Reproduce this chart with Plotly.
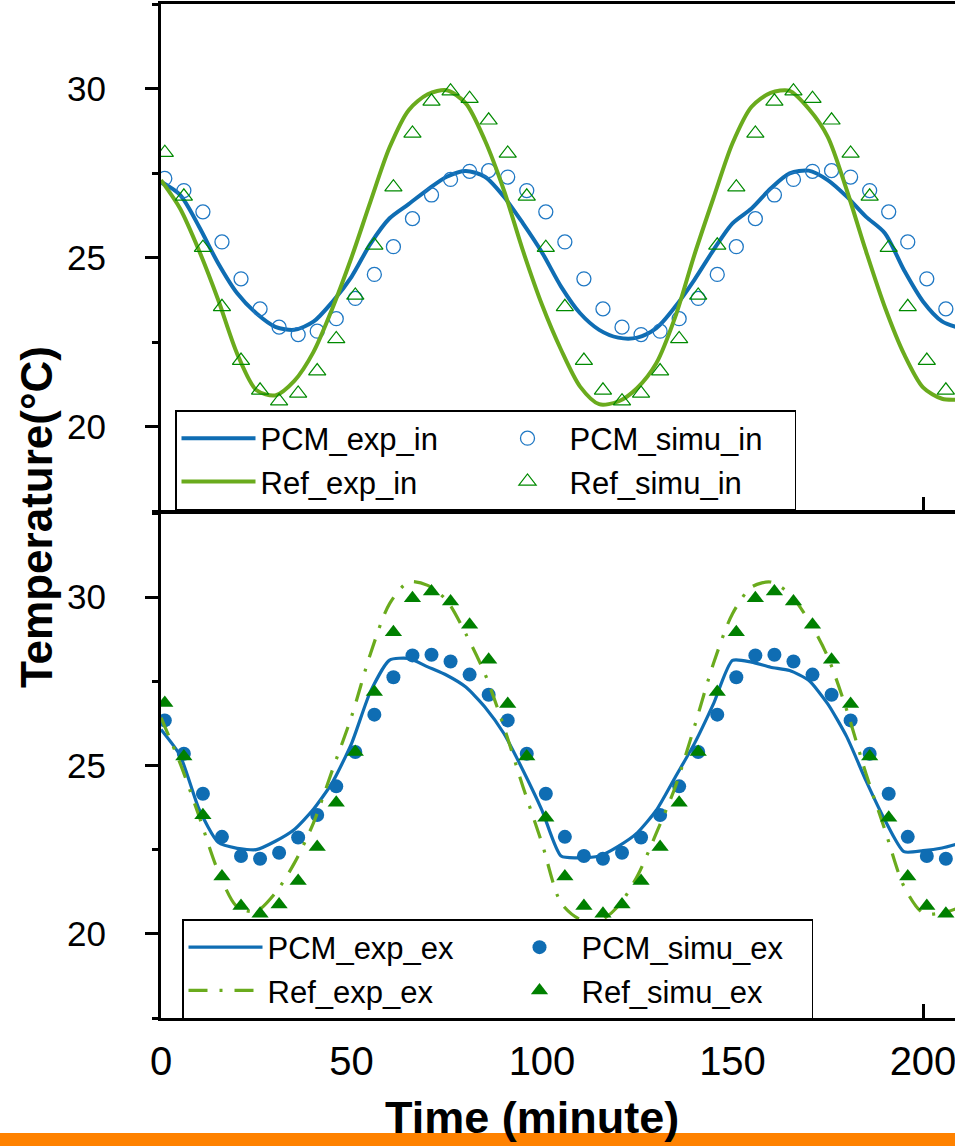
import plotly.graph_objects as go

# ---------------- data ----------------
exp_time = [0, 5, 10, 15, 20, 25, 30, 35, 40, 45, 50, 55, 60, 65, 70, 75, 80, 85, 90, 95,
            100, 105, 110, 115, 120, 125, 130, 135, 140, 145, 150, 155, 160, 165, 170, 175,
            180, 185, 190, 195, 200, 205, 210]

pcm_exp_in = [27.24, 26.85, 25.91, 24.83, 23.94, 23.35, 22.95, 22.86, 23.10, 23.69, 24.43,
              25.41, 26.16, 26.58, 27.01, 27.39, 27.56, 27.39, 26.80, 26.01, 25.15, 24.14,
              23.35, 22.86, 22.63, 22.63, 22.91, 23.55, 24.34, 25.22, 26.01, 26.45, 27.04,
              27.49, 27.57, 27.29, 26.80, 26.21, 25.72, 24.63, 23.70, 23.11, 22.90]

ref_exp_in = [27.29, 26.45, 25.20, 23.75, 22.15, 21.08, 20.92, 21.35, 22.20, 23.50, 25.00,
              26.66, 28.26, 29.36, 29.83, 29.95, 29.56, 28.47, 26.99, 25.20, 23.60, 22.27,
              21.18, 20.66, 20.74, 21.14, 21.87, 23.25, 25.08, 26.76, 28.38, 29.46, 29.87,
              29.93, 29.40, 28.57, 26.99, 25.20, 23.53, 22.15, 21.16, 20.82, 20.80]

pcm_exp_ex = [26.07, 25.30, 23.70, 22.72, 22.54, 22.50, 22.75, 23.10, 23.70, 24.50, 25.65,
              27.20, 28.13, 28.18, 27.93, 27.68, 27.33, 26.74, 25.95, 24.86, 23.67, 22.31,
              22.26, 22.31, 22.60, 23.00, 23.67, 24.66, 25.65, 26.83, 28.12, 28.07, 27.92,
              27.82, 27.53, 26.83, 25.85, 24.56, 23.38, 22.44, 22.47, 22.55, 22.70]

ref_exp_ex = [26.42, 25.07, 23.49, 21.86, 20.80, 20.67, 21.21, 22.10, 23.29, 24.87, 26.45,
              28.33, 29.81, 30.45, 30.35, 29.90, 28.91, 27.73, 26.15, 24.37, 22.69, 20.92,
              20.43, 20.38, 20.82, 21.71, 22.99, 24.37, 26.15, 28.03, 29.51, 30.30, 30.45,
              30.10, 29.31, 28.23, 26.64, 24.77, 23.09, 21.41, 20.62, 20.62, 20.80]

simu_time = [1, 6, 11, 16, 21, 26, 31, 36, 41, 46, 51, 56, 61, 66, 71, 76, 81, 86, 91, 96,
             101, 106, 111, 116, 121, 126, 131, 136, 141, 146, 151, 156, 161, 166, 171, 176,
             181, 186, 191, 196, 201, 206]

pcm_simu_in = [27.34, 26.98, 26.35, 25.46, 24.37, 23.48, 22.94, 22.72, 22.82, 23.19, 23.79,
               24.50, 25.32, 26.15, 26.85, 27.31, 27.55, 27.57, 27.38, 26.98, 26.35,
               25.46, 24.37, 23.48, 22.94, 22.72, 22.82, 23.19, 23.79, 24.50, 25.32, 26.15,
               26.85, 27.31, 27.55, 27.57, 27.38, 26.98, 26.35, 25.46, 24.37, 23.48]

ref_simu_in = [28.10, 26.81, 25.29, 23.54, 21.95, 21.07, 20.75, 20.98, 21.64, 22.59, 23.88,
               25.36, 27.08, 28.67, 29.62, 29.92, 29.70, 29.06, 28.08, 26.81, 25.29,
               23.54, 21.95, 21.07, 20.75, 20.98, 21.64, 22.59, 23.88, 25.36, 27.08, 28.67,
               29.62, 29.92, 29.70, 29.06, 28.08, 26.81, 25.29, 23.54, 21.95, 21.07]

pcm_simu_ex = [26.34, 25.35, 24.16, 22.88, 22.31, 22.23, 22.41, 22.86, 23.53, 24.38, 25.40,
               26.51, 27.62, 28.27, 28.29, 28.09, 27.70, 27.10, 26.34, 25.35, 24.16,
               22.88, 22.31, 22.23, 22.41, 22.86, 23.53, 24.38, 25.40, 26.51, 27.62, 28.27,
               28.29, 28.09, 27.70, 27.10, 26.34, 25.35, 24.16, 22.88, 22.31, 22.23]

ref_simu_ex = [26.86, 25.27, 23.52, 21.70, 20.83, 20.60, 20.87, 21.57, 22.58, 23.89, 25.40,
               27.18, 28.96, 29.97, 30.17, 29.87, 29.18, 28.14, 26.83, 25.27, 23.45,
               21.70, 20.83, 20.60, 20.87, 21.57, 22.58, 23.89, 25.40, 27.18, 28.96, 29.97,
               30.17, 29.87, 29.18, 28.14, 26.83, 25.27, 23.45, 21.70, 20.83, 20.60]

x_ticks = [0, 50, 100, 150, 200]
y_ticks = [20, 25, 30]

# ---------------- styles ----------------
BLUE = "#0f6db3"
BLUE_M = "#1f78c4"
GREEN_L = "#6aab1d"
GREEN_M = "#008a00"
SANS = "Liberation Sans, Arial, sans-serif"

fig = go.Figure()

# top panel
fig.add_trace(go.Scatter(x=exp_time, y=pcm_exp_in, mode="lines", name="PCM_exp_in",
                         line=dict(color=BLUE, width=4, shape="spline", smoothing=0.8),
                         xaxis="x", yaxis="y", legend="legend"))
fig.add_trace(go.Scatter(x=simu_time, y=pcm_simu_in, mode="markers", name="PCM_simu_in",
                         marker=dict(symbol="circle-open", size=14, color=BLUE_M,
                                     line=dict(width=1.3, color=BLUE_M)),
                         xaxis="x", yaxis="y", legend="legend"))
fig.add_trace(go.Scatter(x=exp_time, y=ref_exp_in, mode="lines", name="Ref_exp_in",
                         line=dict(color=GREEN_L, width=4, shape="spline", smoothing=0.8),
                         xaxis="x", yaxis="y", legend="legend"))
fig.add_trace(go.Scatter(x=simu_time, y=ref_simu_in, mode="markers", name="Ref_simu_in",
                         marker=dict(symbol="triangle-up-open", size=15, color=GREEN_M,
                                     line=dict(width=1.2, color=GREEN_M)),
                         xaxis="x", yaxis="y", legend="legend"))

# bottom panel
fig.add_trace(go.Scatter(x=exp_time, y=pcm_exp_ex, mode="lines", name="PCM_exp_ex",
                         line=dict(color=BLUE, width=3.2, shape="spline", smoothing=0.6),
                         xaxis="x2", yaxis="y2", legend="legend2"))
fig.add_trace(go.Scatter(x=simu_time, y=pcm_simu_ex, mode="markers", name="PCM_simu_ex",
                         marker=dict(symbol="circle", size=14, color=BLUE),
                         xaxis="x2", yaxis="y2", legend="legend2"))
fig.add_trace(go.Scatter(x=exp_time, y=ref_exp_ex, mode="lines", name="Ref_exp_ex",
                         line=dict(color=GREEN_L, width=3.2, shape="spline", smoothing=0.8,
                                   dash="19px,12px,3px,12px"),
                         xaxis="x2", yaxis="y2", legend="legend2"))
fig.add_trace(go.Scatter(x=simu_time, y=ref_simu_ex, mode="markers", name="Ref_simu_ex",
                         marker=dict(symbol="triangle-up", size=15, color="#008000"),
                         xaxis="x2", yaxis="y2", legend="legend2"))

H, W = 1146, 955
L, R, T, B = 161, 0, 4, 128
ph = H - T - B

def py(p):
    return (H - B - p) / ph

def px(p):
    return (p - L) / (W - L - R)

yax = dict(range=[17.5, 32.5], tickvals=y_ticks, ticktext=[str(v) for v in y_ticks],
           ticks="outside", ticklen=13, tickwidth=2.5, tickcolor="black",
           minor=dict(dtick=2.5, tick0=0, ticks="outside", ticklen=6, tickwidth=2.5, tickcolor="black"),
           showline=True, linewidth=3, linecolor="black", mirror=True,
           showgrid=False, zeroline=False, automargin=False,
           tickfont=dict(family=SANS, size=35, color="black"), ticklabelstandoff=32)
xax = dict(range=[0, (W - L - R) / 3.81], tickvals=x_ticks, ticktext=[str(v) for v in x_ticks],
           ticks="inside", ticklen=14, tickwidth=2.5, tickcolor="black",
           showline=True, linewidth=3, linecolor="black", mirror=True,
           showgrid=False, zeroline=False, automargin=False, ticklabeloverflow="allow")

leg_common = dict(orientation="h", font=dict(family=SANS, size=31, color="black"),
                  bgcolor="white", bordercolor="black", borderwidth=1.5,
                  entrywidthmode="pixels", itemwidth=74,
                  xanchor="left", yanchor="top", tracegroupgap=0, traceorder="normal")

fig.update_layout(
    width=W, height=H,
    margin=dict(l=L, r=R, t=T, b=B, autoexpand=False),
    paper_bgcolor="white", plot_bgcolor="white",
    xaxis=dict(**xax, anchor="y", domain=[0, 1], showticklabels=False),
    yaxis=dict(**yax, anchor="x", domain=[py(511), 1]),
    xaxis2=dict(**xax, anchor="y2", domain=[0, 1], showticklabels=True, ticklabelstandoff=6,
                tickfont=dict(family=SANS, size=40, color="black")),
    yaxis2=dict(**yax, anchor="x2", domain=[0, py(513)]),
    legend=dict(**leg_common, entrywidth=220, x=px(175), y=py(410)),
    legend2=dict(**leg_common, entrywidth=225, x=px(182), y=py(919)),
    showlegend=True,
    annotations=[
        dict(text="<b>Time (minute)</b>", xref="paper", yref="paper",
             x=px(532), y=py(1117), xanchor="center", yanchor="middle", showarrow=False,
             font=dict(family=SANS, size=45, color="black")),
        dict(text="<b>Temperature(°C)</b>", xref="paper", yref="paper",
             x=px(36), y=py(517), xanchor="center", yanchor="middle", showarrow=False,
             textangle=-90, font=dict(family=SANS, size=44, color="black")),
    ],
    shapes=[
        dict(type="rect", xref="paper", yref="paper", x0=px(-20), x1=px(980),
             y0=py(1133), y1=py(1160), fillcolor="#ff8200", line=dict(width=0), layer="below"),
    ],
)

fig.write_html("out.html", config={"displayModeBar": False},
               post_script="document.body.style.margin='0';document.body.style.padding='0';"
                           "document.body.style.overflow='hidden';")
